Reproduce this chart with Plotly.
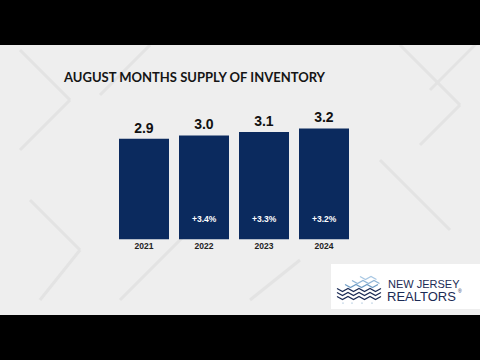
import plotly.graph_objects as go

years = ["2021", "2022", "2023", "2024"]
supply = [2.9, 3.0, 3.1, 3.2]
value_labels = ["2.9", "3.0", "3.1", "3.2"]
change_labels = ["", "+3.4%", "+3.3%", "+3.2%"]
title_text = "AUGUST MONTHS SUPPLY OF INVENTORY"

W, H = 480, 360
NAVY = "#0b2a5e"

def px(x):
    return x / W

def py(y):
    return 1 - y / H

fig = go.Figure()
fig.add_trace(go.Bar(
    x=years, y=supply,
    marker=dict(color=NAVY, line=dict(width=0)),
    text=value_labels, textposition="outside",
    textfont=dict(family="Liberation Sans", size=14, color="#111111", weight="bold"),
    cliponaxis=False, hoverinfo="skip",
))

shapes = []
# letterbox bars
shapes.append(dict(type="rect", xref="paper", yref="paper", x0=0, x1=1, y0=py(45), y1=1,
                   fillcolor="black", line=dict(width=0), layer="above"))
shapes.append(dict(type="rect", xref="paper", yref="paper", x0=0, x1=1, y0=0, y1=py(315),
                   fillcolor="black", line=dict(width=0), layer="above"))
# faint background texture lines
tex = [((20, 50), (70, 100)), ((70, 100), (20, 150)), ((150, 45), (100, 95)),
       ((400, 45), (460, 105)), ((460, 105), (420, 145)), ((30, 200), (80, 250)),
       ((80, 250), (40, 300)), ((120, 300), (200, 220)), ((380, 160), (450, 230)),
       ((430, 90), (480, 40)), ((250, 300), (300, 260))]
for (a, b) in tex:
    shapes.append(dict(type="line", xref="paper", yref="paper",
                       x0=px(a[0]), y0=py(a[1]), x1=px(b[0]), y1=py(b[1]),
                       line=dict(color="#e3e3e3", width=3), layer="below"))
# logo box
shapes.append(dict(type="rect", xref="paper", yref="paper", x0=px(331), x1=1, y0=py(309), y1=py(264),
                   fillcolor="white", line=dict(width=0), layer="above"))

def zig(x0, x1, y, amp, step):
    pts = []
    x = x0
    up = True
    while x <= x1 + 0.01:
        pts.append((x, y - amp if up else y + amp))
        up = not up
        x += step
    return "M " + " L ".join(f"{px(a):.5f},{py(b):.5f}" for a, b in pts)

for yy in [290, 294, 298]:
    shapes.append(dict(type="path", xref="paper", yref="paper", path=zig(337, 381, yy, 1.6, 5.5),
                       line=dict(color="#1b2b55", width=1.2), layer="above"))
for (yy, x0, col) in [(286, 345, "#6f9cc4"), (282, 352, "#8fb5d6"), (278, 360, "#a9c8e3")]:
    shapes.append(dict(type="path", xref="paper", yref="paper", path=zig(x0, 381, yy, 1.6, 5.5),
                       line=dict(color=col, width=1.2), layer="above"))
for xd in [343, 352, 362, 372]:
    shapes.append(dict(type="circle", xref="paper", yref="paper",
                       x0=px(xd - 0.6), x1=px(xd + 0.6), y0=py(303.6), y1=py(302.4),
                       fillcolor="#6f9cc4", line=dict(width=0), layer="above"))

annotations = []
annotations.append(dict(text=title_text, xref="paper", yref="paper", x=px(61), y=py(77),
                        xanchor="left", yanchor="middle", showarrow=False,
                        font=dict(family="Lato", size=13, color="#151515", weight="bold")))
for i, lab in enumerate(change_labels):
    if lab:
        annotations.append(dict(text=lab, x=i, y=0, xref="x", yref="y", yanchor="middle",
                                yshift=21, showarrow=False,
                                font=dict(family="Liberation Sans", size=8.5, color="white", weight="bold")))
annotations.append(dict(text="NEW JERSEY", xref="paper", yref="paper", x=px(386), y=py(284),
                        xanchor="left", yanchor="middle", showarrow=False,
                        font=dict(family="Liberation Sans", size=11, color="#1b2b55")))
annotations.append(dict(text="REALTORS", xref="paper", yref="paper", x=px(385), y=py(296),
                        xanchor="left", yanchor="middle", showarrow=False,
                        font=dict(family="Liberation Sans", size=13, color="#1b2b55")))
annotations.append(dict(text="®", xref="paper", yref="paper", x=px(456), y=py(291),
                        xanchor="left", yanchor="middle", showarrow=False,
                        font=dict(family="Liberation Sans", size=5, color="#1b2b55")))

fig.update_layout(
    width=W, height=H,
    margin=dict(l=0, r=0, t=0, b=0),
    paper_bgcolor="#eeeeee", plot_bgcolor="rgba(0,0,0,0)",
    bargap=1/6, showlegend=False,
    shapes=shapes, annotations=annotations,
    xaxis=dict(type="category", domain=[px(114), px(354)], range=[-0.5, 3.5], showgrid=False, zeroline=False,
               showline=False, ticks="", tickfont=dict(family="Liberation Sans", size=8.5, color="#222222", weight="bold"),
               fixedrange=True),
    yaxis=dict(domain=[py(239.5), py(239.5 - 4 * 34.7)], range=[0, 4], visible=False, fixedrange=True),
)
fig.write_html("out.html", config={"displayModeBar": False, "staticPlot": True},
               post_script="document.body.style.margin='0';document.body.style.overflow='hidden';")
